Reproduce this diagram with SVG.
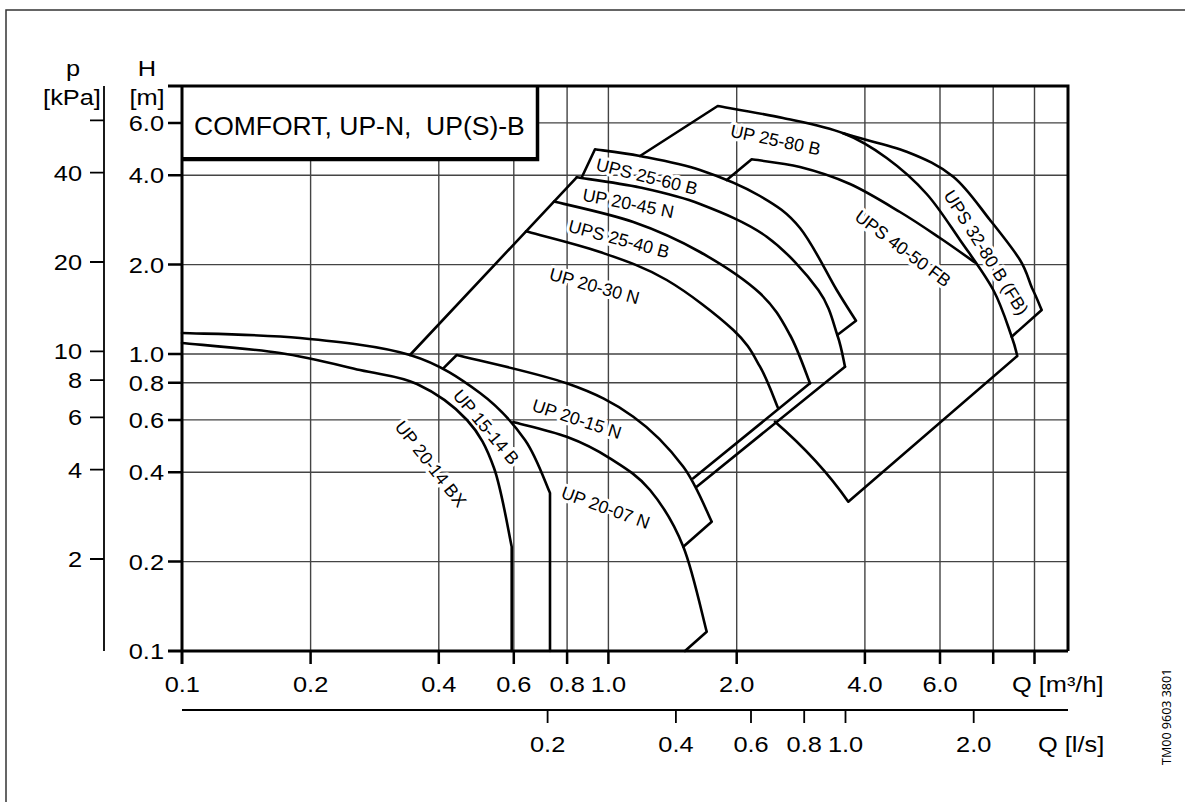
<svg xmlns="http://www.w3.org/2000/svg" width="1185" height="802" viewBox="0 0 1185 802">
<style>
.frame{stroke:#333;stroke-width:1.5;fill:none}
.grid{stroke:#444;stroke-width:1.4;fill:none}
.axis{stroke:#000;stroke-width:3;fill:none}
.tick{stroke:#000;stroke-width:2.5;fill:none}
.thin{stroke:#000;stroke-width:1.8;fill:none}
.curve{fill:none;stroke:#000;stroke-width:2.6;stroke-linejoin:round;stroke-linecap:round}
.ax{font-family:"Liberation Sans",Arial,sans-serif;font-size:21.5px;fill:#000}
.lbl{font-family:"Liberation Sans",Arial,sans-serif;font-size:17.8px;fill:#000;paint-order:stroke;stroke:#fff;stroke-width:6;stroke-linejoin:round}
.title{font-family:"Liberation Sans",Arial,sans-serif;font-size:26.5px;fill:#000}
.code{font-family:"Noto Sans","Liberation Sans",sans-serif;font-size:12.5px;fill:#000}
</style>
<rect width="1185" height="802" fill="#fff"/>
<g id="outer-frame">
<path class="frame" d="M6,802 V10 H1185"/>
</g>
<g id="grid">
<path class="grid" d="M310.6,86V651 M438.8,86V651 M513.8,86V651 M567.1,86V651 M608.4,86V651 M736.7,86V651 M864.9,86V651 M940,86V651 M993.2,86V651 M1034.5,86V651"/>
<path class="grid" d="M182,561.6H1068 M182,472.2H1068 M182,419.9H1068 M182,382.8H1068 M182,354H1068 M182,264.6H1068 M182,175.2H1068 M182,122.9H1068"/>
</g>
<g id="title-box">
<rect x="182" y="86" width="355" height="72" fill="#fff" stroke="#000" stroke-width="2"/>
<path d="M537.5,87V159.5H183" fill="none" stroke="#000" stroke-width="3.5"/>
<text class="title" x="194" y="135" xml:space="preserve">COMFORT, UP-N,  UP(S)-B</text>
</g>
<g id="labels">
<text class="lbl" transform="translate(729.5,136.5) rotate(12)">UP 25-80 B</text>
<text class="lbl" transform="translate(595,170) rotate(14)">UPS 25-60 B</text>
<text class="lbl" transform="translate(581.7,200.5) rotate(11)">UP 20-45 N</text>
<text class="lbl" transform="translate(567.3,231.5) rotate(15)">UPS 25-40 B</text>
<text class="lbl" transform="translate(548.3,279.5) rotate(15.6)">UP 20-30 N</text>
<text class="lbl" transform="translate(853.5,219) rotate(37)">UPS 40-50 FB</text>
<text class="lbl" transform="translate(943,195) rotate(58)">UPS 32-80 B (FB)</text>
<text class="lbl" transform="translate(394,427) rotate(52)">UP 20-14 BX</text>
<text class="lbl" transform="translate(452,396) rotate(50)">UP 15-14 B</text>
<text class="lbl" transform="translate(531,410.5) rotate(18)">UP 20-15 N</text>
<text class="lbl" transform="translate(560,497.5) rotate(20)">UP 20-07 N</text>
</g>
<g id="connectors">
<path id="up15-14b" class="curve" d="M182,333 C201.7,333.8 262,334.3 300,338 C338,341.7 380,345.8 410,355 C440,364.2 460.8,378.8 480,393 C499.2,407.2 513.3,423.3 525,440 C536.7,456.7 545.8,484.2 550,493 L550,651"/>
<path id="up20-14bx" class="curve" d="M182,343 C198.3,344.7 250.3,348.5 280,353 C309.7,357.5 337.2,364.8 360,370 C382.8,375.2 399.2,375.7 417,384 C434.8,392.3 454.2,406 467,420 C479.8,434 486.4,446.9 494,468 C501.6,489.1 508.8,533.6 511.7,546.7 L511.7,651"/>
<path id="up20-15n" class="curve" d="M443.3,368.3 L456.7,355 C475,359.7 537.3,373 566.7,383.3 C596.1,393.6 613.9,402.8 633.3,416.7 C652.7,430.6 670.2,449.2 683.3,466.7 C696.4,484.2 707,512.5 711.7,521.7 L683.3,546.7"/>
<path id="up20-07n" class="curve" d="M513.3,422 C522.2,424.5 550.6,430.7 566.7,436.7 C582.8,442.7 596.1,449.4 610,458.3 C623.9,467.2 637.8,475.3 650,490 C662.2,504.7 673.9,523.1 683.3,546.7 C692.8,570.3 702.8,617.5 706.7,631.7 L685,651"/>
<path id="main-diag" class="curve" d="M410,355 L576.7,177.3"/>
<path id="up20-30n" class="curve" d="M526,231.3 C538.3,234.75 576.6,243.9 600,252 C623.5,260.1 644.5,267 666.7,280 C688.9,293 717.7,315.5 733.3,330 C748.9,344.5 752.6,353.7 760,366.7 C767.5,379.7 775,401.1 778,408"/>
<path id="ups25-40b" class="curve" d="M554,201.5 C567.2,204.9 609,213.6 633.3,222 C657.6,230.4 678.9,240.1 700,252 C721.1,263.9 745,279.5 760,293.3 C775,307.1 781.7,320 790,335 C798.3,350 806.7,375.3 810,383.3"/>
<path id="up20-45n" class="curve" d="M576.7,177.3 C587.2,179 619.5,183 640,187.5 C660.5,192 678.9,195.8 700,204 C721.1,212.2 747,222.4 766.7,236.7 C786.4,251 806.5,273.6 818.3,290 C830.1,306.4 832.9,322.2 837.3,335 C841.75,347.8 843.7,361.4 845,366.7"/>
<path id="ups25-60b" class="curve" d="M581.7,177.5 L595,149.3 C602.5,150.4 622.5,152.55 640,156 C657.5,159.45 680,163.3 700,170 C720,176.7 743.3,186.3 760,196 C776.7,205.7 787.2,212.3 800,228 C812.8,243.7 827.4,274.55 836.7,290 C846,305.45 852.8,315.6 856,320.7 L837.3,335"/>
<path id="up25-80b" class="curve" d="M640,156 L717.7,106 C728.6,108 762.1,113.45 783,118 C803.9,122.55 826,126.6 843.3,133.3 C860.6,140 872.8,147.9 886.7,158 C900.6,168.1 914.5,180.3 926.7,194 C938.9,207.7 948.9,224 960,240 C971.1,256 984.7,273.9 993.3,290 C1001.9,306.1 1007.7,325.7 1011.7,336.7 C1015.7,347.7 1016.4,352.8 1017.3,356 L848.3,501.7 C822,464 795,439 775,421.7"/>
<path id="ups40-50fb" class="curve" d="M726.7,180 L751.7,159.3 C759.75,160.6 783.6,162.9 800,167 C816.4,171.1 833.3,176.5 850,184 C866.7,191.5 885,203 900,212 C915,221 927.5,229.6 940,238 C952.5,246.4 969.2,258.4 975,262.5"/>
<path id="ups32-80b" class="curve" d="M843.3,133.3 C860,139 888.4,144.5 906.7,151.7 C925,158.9 939.4,165.3 953.3,176.7 C967.2,188.1 978.9,206.1 990,220 C1001.1,233.9 1013,248.7 1020,260 C1027,271.3 1028.4,279.7 1032,288 C1036.3,296.7 1040.1,306.3 1041.7,310 L1011.7,336.7"/>
<path id="diag-upper" class="curve" d="M693.3,478.3 L810,383.3"/>
<path id="diag-lower" class="curve" d="M696.7,486.7 L845,366.7"/>
</g>
<g id="axes">
<path class="axis" d="M168,86 H1068 V651 M182,86 V664 M168,651 H1068"/>
<path class="tick" d="M168,122.9H182 M168,175.2H182 M168,264.6H182 M168,354H182 M168,382.8H182 M168,419.9H182 M168,472.2H182 M168,561.6H182"/>
<path class="tick" d="M310.6,651V664 M438.8,651V664 M513.8,651V664 M567.1,651V664 M608.4,651V664 M736.7,651V664 M864.9,651V664 M940,651V664 M993.2,651V664 M1034.5,651V664"/>
<path class="thin" d="M104,86 V651"/>
<path class="thin" d="M90,120.3H104 M90,172.6H104 M90,262H104 M90,351.4H104 M90,380.2H104 M90,417.3H104 M90,469.6H104 M90,559H104"/>
<path class="thin" d="M182,710 H1068 M547.6,710V723 M675.9,710V723 M751,710V723 M804.2,710V723 M845.5,710V723 M973.7,710V723"/>
</g>
<g id="axis-text" class="ax">
<text transform="translate(73,76) scale(1.18,1)" text-anchor="middle">p</text>
<text transform="translate(72,105) scale(1.18,1)" text-anchor="middle">[kPa]</text>
<text transform="translate(147,76) scale(1.18,1)" text-anchor="middle">H</text>
<text transform="translate(147,105) scale(1.18,1)" text-anchor="middle">[m]</text>
<g text-anchor="end">
<text transform="translate(164,131) scale(1.18,1)">6.0</text>
<text transform="translate(164,183.2) scale(1.18,1)">4.0</text>
<text transform="translate(164,272.6) scale(1.18,1)">2.0</text>
<text transform="translate(164,362) scale(1.18,1)">1.0</text>
<text transform="translate(164,390.8) scale(1.18,1)">0.8</text>
<text transform="translate(164,427.9) scale(1.18,1)">0.6</text>
<text transform="translate(164,480.2) scale(1.18,1)">0.4</text>
<text transform="translate(164,569.6) scale(1.18,1)">0.2</text>
<text transform="translate(164,659) scale(1.18,1)">0.1</text>
<text transform="translate(82,180.6) scale(1.18,1)">40</text>
<text transform="translate(82,270) scale(1.18,1)">20</text>
<text transform="translate(82,359.4) scale(1.18,1)">10</text>
<text transform="translate(82,388.2) scale(1.18,1)">8</text>
<text transform="translate(82,425.3) scale(1.18,1)">6</text>
<text transform="translate(82,477.6) scale(1.18,1)">4</text>
<text transform="translate(82,567) scale(1.18,1)">2</text>
</g>
<g text-anchor="middle">
<text transform="translate(182.3,692) scale(1.18,1)">0.1</text>
<text transform="translate(310.6,692) scale(1.18,1)">0.2</text>
<text transform="translate(438.8,692) scale(1.18,1)">0.4</text>
<text transform="translate(513.8,692) scale(1.18,1)">0.6</text>
<text transform="translate(567.1,692) scale(1.18,1)">0.8</text>
<text transform="translate(608.4,692) scale(1.18,1)">1.0</text>
<text transform="translate(736.7,692) scale(1.18,1)">2.0</text>
<text transform="translate(864.9,692) scale(1.18,1)">4.0</text>
<text transform="translate(940,692) scale(1.18,1)">6.0</text>
<text transform="translate(547.6,752) scale(1.18,1)">0.2</text>
<text transform="translate(675.9,752) scale(1.18,1)">0.4</text>
<text transform="translate(751,752) scale(1.18,1)">0.6</text>
<text transform="translate(804.2,752) scale(1.18,1)">0.8</text>
<text transform="translate(845.5,752) scale(1.18,1)">1.0</text>
<text transform="translate(973.7,752) scale(1.18,1)">2.0</text>
</g>
<text transform="translate(1012,692) scale(1.18,1)">Q [m³/h]</text>
<text transform="translate(1038,752) scale(1.18,1)">Q [l/s]</text>
</g>
<g id="doc-code">
<text class="code" transform="translate(1171,765) rotate(-90)">TM00 9603 3801</text>
</g>
</svg>
